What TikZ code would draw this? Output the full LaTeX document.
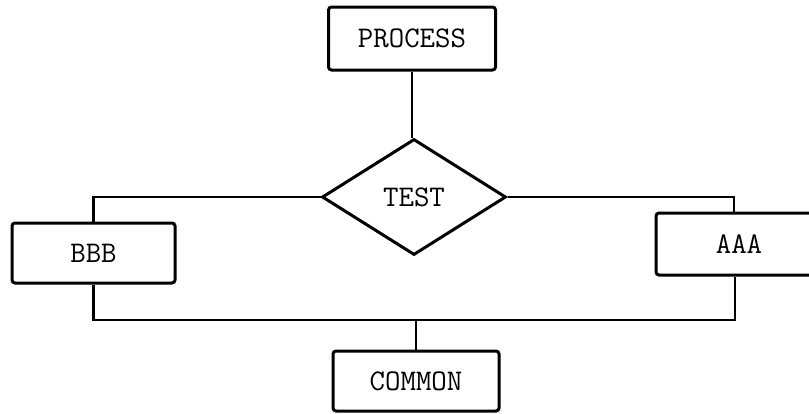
\documentclass[tikz,border=0pt]{standalone}
\usepackage{tikz}
\usetikzlibrary{calc, shapes.geometric}

\begin{document}
\begin{tikzpicture}[
    x=0.5pt, y=-0.5pt,
    every node/.style={font=\ttfamily\fontsize{15}{17}\selectfont},
    caja/.style={draw, line width=1.5pt, rounded corners=1.5pt, fill=white, inner sep=0pt},
    rombo/.style={draw, diamond, line width=1.5pt, inner sep=0pt, minimum width=92pt, minimum height=58pt},
    enlace/.style={line width=1.1pt}
]

    % --- MARCO ---
    \path[use as bounding box, clip] (0,0) rectangle (809,413);
    \fill[white] (0,0) rectangle (809,413);

    % --- NODOS ---
    \node[caja, minimum width=83.5pt, minimum height=31.5pt] (process) at (412, 38.5) {PROCESS};
    \node[rombo] (test) at (414, 197) {TEST};
    \node[caja, minimum width=81.5pt, minimum height=30pt] (bbb) at (93.5, 253) {BBB};
    \node[caja, minimum width=83pt, minimum height=31pt] (aaa) at (739, 244) {AAA};
    \node[caja, minimum width=83pt, minimum height=30pt] (common) at (416, 381) {COMMON};

    % --- CONEXIONES ---
    \coordinate (bus) at (416, 320);
    \coordinate (aaaIn) at ($(aaa.north)+(-2.5pt,0)$);
    \coordinate (aaaOut) at ($(aaa.south)+(-2pt,0)$);
    \draw[enlace] (process.south) -- (process.south |- test.north);
    \draw[enlace] (test.west) -| (bbb.north);
    \draw[enlace] (test.east) -| (aaaIn);
    \draw[enlace] (bbb.south) |- (bus) -| (aaaOut);
    \draw[enlace] (bus) -- (common.north);

\end{tikzpicture}
\end{document}
